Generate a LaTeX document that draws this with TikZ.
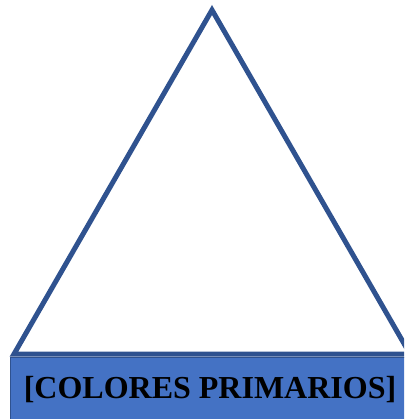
\documentclass[tikz,border=0pt]{standalone}
\usepackage{fontspec}
\setmainfont{Liberation Serif}
\definecolor{triblue}{HTML}{2F528F}
\definecolor{boxblue}{HTML}{4472C4}
\begin{document}
\begin{tikzpicture}[x=1pt,y=-1pt,
  tri/.style={draw=triblue,line width=5pt,line join=miter},
  boxstyle/.style={fill=boxblue,draw=triblue,line width=1pt}]
\clip (0,0) rectangle (404,419);
\useasboundingbox (0,0) rectangle (404,419);
\coordinate (apex) at (212,10);
\coordinate (bl) at (14,354);
\coordinate (br) at (410,354);
\draw[tri] (apex) -- (bl) -- (br) -- cycle;
\path[boxstyle] (10,357) rectangle (414,425);
\node[font=\fontsize{32}{36}\selectfont\bfseries,text=black] (lbl) at (210,390) {[COLORES PRIMARIOS]};
\end{tikzpicture}
\end{document}
